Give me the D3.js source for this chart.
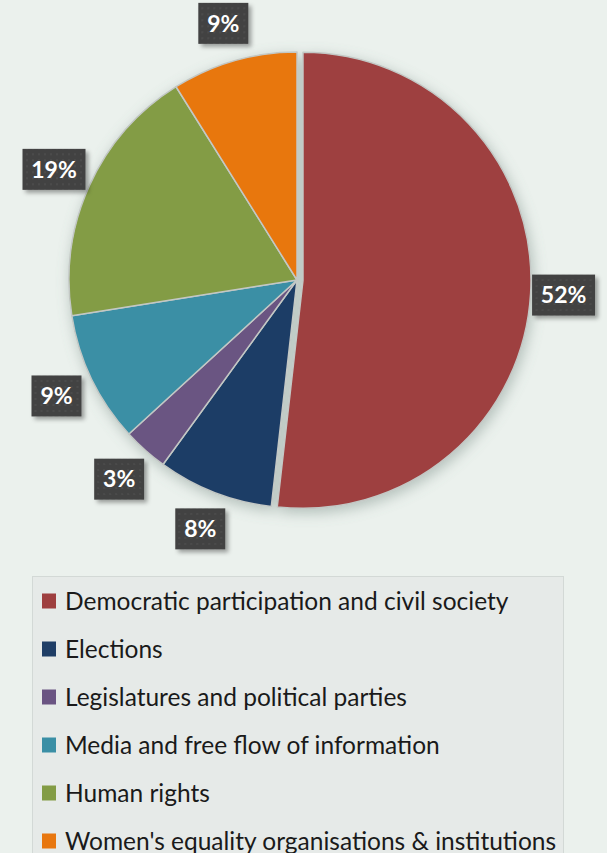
<!DOCTYPE html>
<html lang="en">
<head>
<meta charset="UTF-8">
<title>Democracy support by sector</title>
<script src="https://d3js.org/d3.v7.min.js"></script>
<style>
    body { margin: 0; background: #ebf1ed; }
    svg { display: block; }
    .label-text { font-family: Lato, "Open Sans", sans-serif; font-weight: bold; font-size: 23px; fill: #fff; }
    .legend-text { font-family: Lato, "Open Sans", sans-serif; font-size: 24.5px; fill: #1a1a1a; }
</style>
</head>
<body>
<svg width="607" height="853"></svg>
<script>
    // data
    const categories = [
        "Democratic participation and civil society",
        "Elections",
        "Legislatures and political parties",
        "Media and free flow of information",
        "Human rights",
        "Women's equality organisations & institutions"
    ];
    const shares = [51.8, 8.2, 3.2, 9.3, 18.6, 8.9];
    const colours = ["#9e3f3f", "#1f3e66", "#6a5482", "#3a8fa5", "#839c45", "#e8770f"];

    const svg = d3.select("svg");
    const cx = 297, cy = 280, radius = 228, labelRadius = 267, explode = 6;

    const defs = svg.append("defs");
    const pieShadow = defs.append("filter").attr("id", "pieShadow")
        .attr("x", "-20%").attr("y", "-20%").attr("width", "140%").attr("height", "140%");
    pieShadow.append("feDropShadow").attr("dx", 2).attr("dy", 4).attr("stdDeviation", 7)
        .attr("flood-color", "#6f837b").attr("flood-opacity", 0.45);

    const boxShadow = defs.append("filter").attr("id", "boxShadow")
        .attr("x", "-30%").attr("y", "-30%").attr("width", "160%").attr("height", "160%");
    boxShadow.append("feDropShadow").attr("dx", 3).attr("dy", 3).attr("stdDeviation", 2)
        .attr("flood-color", "#000").attr("flood-opacity", 0.35);

    const dots = defs.append("pattern").attr("id", "dots")
        .attr("width", 6).attr("height", 6).attr("patternUnits", "userSpaceOnUse");
    dots.append("rect").attr("width", 6).attr("height", 6).attr("fill", "#424242");
    dots.append("circle").attr("cx", 3).attr("cy", 3).attr("r", 0.8).attr("fill", "#555");

    const pie = d3.pie().sort(null).value(d => d)(shares);
    const arc = d3.arc().innerRadius(0).outerRadius(radius);
    const labelArc = d3.arc().innerRadius(labelRadius).outerRadius(labelRadius);

    function offset(d, i) {
        if (i !== 0) return [0, 0];
        const mid = (d.startAngle + d.endAngle) / 2;
        return [Math.sin(mid) * explode, -Math.cos(mid) * explode];
    }

    const g = svg.append("g").attr("transform", `translate(${cx},${cy})`);

    g.append("g").attr("filter", "url(#pieShadow)")
        .selectAll("path")
        .data(pie)
        .join("path")
        .attr("d", arc)
        .attr("transform", (d, i) => `translate(${offset(d, i)})`)
        .attr("fill", (d, i) => colours[i])
        .attr("stroke", "#c3c8c5")
        .attr("stroke-width", 1.5)
        .attr("stroke-linejoin", "round");

    const fmt = d3.format(".0f");
    const labels = g.append("g")
        .selectAll("g")
        .data(pie)
        .join("g")
        .attr("transform", d => `translate(${labelArc.centroid(d)})`);

    labels.append("rect")
        .attr("width", d => fmt(d.data).length > 1 ? 63 : 50)
        .attr("height", 41)
        .attr("x", d => fmt(d.data).length > 1 ? -31.5 : -25)
        .attr("y", -20.5)
        .attr("fill", "url(#dots)")
        .attr("filter", "url(#boxShadow)");

    labels.append("text")
        .attr("class", "label-text")
        .attr("text-anchor", "middle")
        .attr("dy", "0.36em")
        .text(d => fmt(d.data) + "%");

    // legend
    const legend = svg.append("g");
    legend.append("rect")
        .attr("x", 32.5).attr("y", 576.5)
        .attr("width", 531).attr("height", 300)
        .attr("fill", "#e6eae8")
        .attr("stroke", "#d3d9d6");

    const rowY = d3.scalePoint().domain(categories).range([601, 841]);

    const items = legend.selectAll("g.item")
        .data(categories)
        .join("g")
        .attr("class", "item")
        .attr("transform", d => `translate(0,${rowY(d)})`);

    items.append("rect")
        .attr("x", 42).attr("y", -7.5)
        .attr("width", 14).attr("height", 15)
        .attr("fill", (d, i) => colours[i]);

    items.append("text")
        .attr("class", "legend-text")
        .attr("x", 65)
        .attr("dy", "0.36em")
        .text(d => d);
</script>
</body>
</html>
